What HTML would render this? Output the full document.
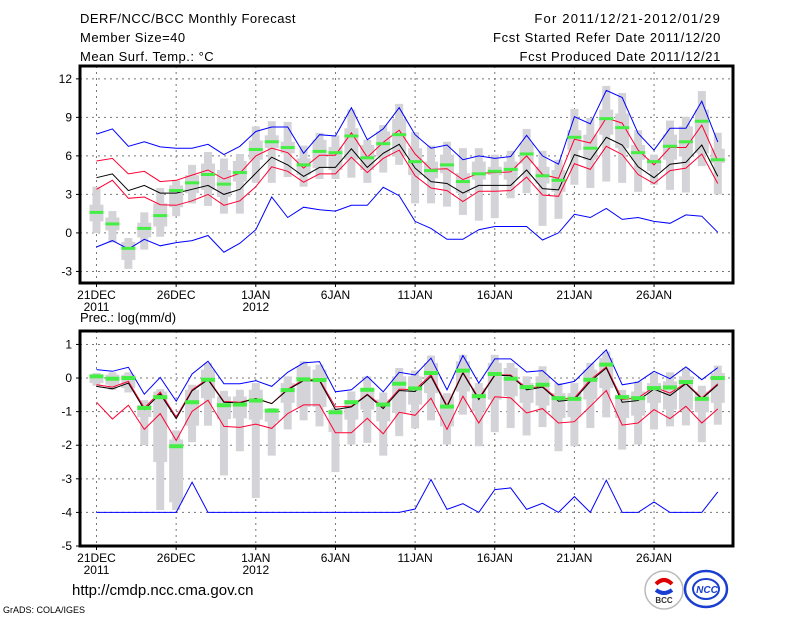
<!DOCTYPE html>
<html><head><meta charset="utf-8">
<style>
html,body{margin:0;padding:0;background:#fff;}
svg{display:block;font-family:"Liberation Sans","DejaVu Sans",sans-serif;}
</style></head>
<body>
<svg id="chart" width="800" height="618" viewBox="0 0 800 618" xmlns="http://www.w3.org/2000/svg">
<rect x="0" y="0" width="800" height="618" fill="#fff"/>
<g font-size="13" fill="#000" letter-spacing="0.5">
<text x="80" y="23">DERF/NCC/BCC Monthly Forecast</text>
<text x="80" y="42">Member Size=40</text>
<text x="80" y="61">Mean Surf. Temp.: °C</text>
</g>
<g font-size="13" fill="#000" text-anchor="end">
<text x="721" y="23" letter-spacing="1.2">For 2011/12/21-2012/01/29</text>
<text x="721" y="42" letter-spacing="0.7">Fcst Started Refer Date 2011/12/20</text>
<text x="721" y="61" letter-spacing="0.65">Fcst Produced Date 2011/12/21</text>
</g>
<text x="80" y="322" font-size="13">Prec.: log(mm/d)</text>
<text x="72" y="595" font-size="15">http://cmdp.ncc.cma.gov.cn</text>
<text x="3" y="613" font-size="9">GrADS: COLA/IGES</text>
<g>
<circle cx="664" cy="590" r="19" fill="#fff" stroke="#bbb" stroke-width="1.5"/>
<path d="M656 584 q8 -8 16 0" stroke="#d00" stroke-width="4" fill="none"/>
<path d="M656 590 q8 6 16 0" stroke="#1a3fd0" stroke-width="4" fill="none"/>
<text x="664" y="603" font-size="8" font-weight="bold" text-anchor="middle" fill="#333">BCC</text>
</g>
<g>
<ellipse cx="706" cy="589" rx="21" ry="18" fill="#fff" stroke="#1a3fd0" stroke-width="2.5"/>
<ellipse cx="706" cy="589" rx="13" ry="10" fill="none" stroke="#1a3fd0" stroke-width="2"/>
<text x="707" y="593" font-size="10" font-weight="bold" font-style="italic" text-anchor="middle" fill="#1a3fd0">NCC</text>
</g>
<g id="plots"></g>
</svg>
<script>
// ---- data: days 0..39 (21DEC2011 .. 29JAN2012)
const xTickLabels = ["21DEC","26DEC","1JAN","6JAN","11JAN","16JAN","21JAN","26JAN"];
const xTickYears = ["2011","","2012","","","","",""];
const tTicks = [-3,0,3,6,9,12];
const pTicks = [-5,-4,-3,-2,-1,0,1];

const tBlueHi = [7.7,8.1,6.75,7.1,6.7,6.6,6.6,6.9,6.1,6.75,7.9,8.25,8.25,6.2,7.65,7.55,9.75,7.25,8.1,9.75,7.65,6.6,6.85,5.7,6.0,5.8,5.95,7.6,6.0,5.35,9.05,8.5,11.1,10.55,7.75,6.45,8.15,8.15,10.25,7.07];
const tRedHi = [5.6,5.8,4.6,4.8,4.0,4.1,4.5,4.9,4.2,4.65,6.0,6.6,6.25,5.05,6.05,6.05,7.8,5.9,7.05,8.0,6.15,4.95,5.0,4.15,4.65,4.7,4.75,6.0,4.55,4.25,7.3,7.0,8.95,8.55,6.45,5.3,6.65,6.65,8.4,5.6];
const tMean = [4.3,4.6,3.3,3.7,3.1,3.1,3.4,3.7,3.0,3.4,4.65,5.9,5.3,4.4,5.1,5.1,6.55,5.1,6.2,6.9,5.05,4.0,3.85,3.1,3.7,3.7,3.7,4.9,3.45,3.35,6.1,5.7,7.45,6.85,5.15,4.3,5.35,5.5,6.85,4.4];
const tRedLo = [3.4,4.1,2.7,2.8,2.2,2.15,2.5,3.0,2.15,2.5,3.6,5.15,4.8,3.95,4.6,4.6,5.9,4.7,5.8,6.45,4.45,3.5,3.3,2.45,3.25,3.25,3.3,4.35,2.95,2.85,5.4,4.95,6.75,6.1,4.55,3.85,4.85,5.05,6.15,3.85];
const tBlueLo = [-1.1,-0.6,-1.25,-0.5,-1.0,-0.75,-0.6,-0.2,-1.5,-0.8,0.25,2.8,1.2,2.0,1.8,1.7,2.15,2.15,3.55,2.9,0.9,0.35,-0.5,-0.5,0.25,0.5,0.5,0.5,-0.55,0,1.45,1.2,1.9,1.05,1.2,0.9,0.75,1.4,1.3,0.05];
const tObs = [1.6,0.7,-1.2,0.35,1.35,3.3,3.9,4.55,3.8,4.7,6.5,7.1,6.65,5.3,6.35,6.25,7.55,5.85,6.95,7.65,5.55,4.85,5.3,4.0,4.6,4.8,4.95,6.15,4.45,4.1,7.45,6.6,8.9,8.2,6.25,5.55,6.75,7.1,8.7,5.7];
const tBoxOutHi = [3.6,1.7,-0.4,1.6,3.5,4.1,5.3,6.3,5.8,6.15,8.3,8.7,8.65,6.8,7.8,7.6,9.6,7.25,8.4,10.05,7.85,6.8,7.1,6.6,6.6,6.1,6.4,8.1,6.4,5.7,9.65,8.95,11.45,10.9,8.0,6.1,8.75,9.05,11.05,7.8];
const tBoxOutLo = [0,-0.75,-2.8,-1.3,-0.3,1.3,2.3,2.1,1.5,1.5,3.9,3.9,4.35,3.6,4.2,4.2,4.3,3.9,4.7,5.3,2.3,2.3,2.05,1.4,0.95,1.15,2.7,3.1,0.55,1.1,3.75,3.5,4.0,3.9,3.2,3.75,3.35,3.15,5.2,3.0];
const tBoxInHi = [2.2,1.2,-0.7,0.8,2.3,3.7,4.5,5.4,4.9,5.6,7.2,7.6,7.1,5.8,7.25,6.7,8.15,6.85,7.9,8.9,6.6,5.55,6.1,4.65,5.55,5.15,5.55,7.0,5.15,4.9,8.0,7.65,9.6,9.3,6.85,5.8,7.65,8.3,9.6,6.55];
const tBoxInLo = [0.9,0.2,-2.1,-0.35,0.5,2.0,3.1,3.35,2.8,4.0,5.7,6.6,6.2,4.5,5.05,4.9,5.7,4.9,5.95,5.95,4.5,4.25,4.65,3.1,4.15,4.5,4.15,5.4,3.85,3.2,6.45,5.7,7.65,6.6,5.7,4.8,5.7,5.95,6.2,5.45];

const pBlueHi = [0.25,0.2,0.32,-0.48,0.02,-0.69,0.12,0.5,-0.17,-0.17,-0.08,-0.25,0.17,0.45,0.49,-0.41,-0.35,0.05,-0.41,0.17,0.09,0.59,-0.35,0.67,-0.15,0.57,0.57,0.18,0.22,-0.2,-0.1,0.37,0.84,-0.2,-0.12,0.2,-0.02,0.33,-0.05,0.31];
const pRedHi = [-0.2,-0.27,-0.1,-0.89,-0.42,-1.16,-0.35,-0.02,-0.7,-0.72,-0.61,-0.76,-0.33,-0.05,-0.05,-0.86,-0.84,-0.48,-0.86,-0.33,-0.35,0.1,-0.82,0.17,-0.6,0.1,0.09,-0.3,-0.25,-0.64,-0.59,-0.05,0.33,-0.64,-0.59,-0.27,-0.45,-0.15,-0.59,-0.17];
const pMean = [-0.25,-0.32,-0.15,-0.94,-0.47,-1.21,-0.38,-0.05,-0.72,-0.74,-0.61,-0.76,-0.35,-0.08,-0.08,-0.94,-0.86,-0.5,-0.91,-0.37,-0.4,0.05,-0.86,0.15,-0.64,0.08,0.07,-0.35,-0.27,-0.69,-0.64,-0.1,0.3,-0.72,-0.67,-0.33,-0.52,-0.17,-0.62,-0.2];
const pRedLo = [-0.72,-1.22,-0.81,-1.53,-1.06,-1.86,-0.99,-0.66,-1.44,-1.47,-1.37,-1.5,-1.06,-0.8,-0.8,-1.63,-1.63,-1.2,-1.66,-1.02,-1.11,-0.6,-1.53,-0.54,-1.34,-0.56,-0.59,-1.04,-0.91,-1.34,-1.3,-0.84,-0.37,-1.4,-1.34,-0.94,-1.21,-0.84,-1.34,-0.92];
const pBlueLo = [-4,-4,-4,-4,-4,-4,-3.1,-4,-4,-4,-4,-4,-4,-4,-4,-4,-4,-4,-4,-4,-3.9,-3.02,-3.91,-3.74,-4,-3.32,-3.27,-3.91,-3.73,-4,-3.53,-4,-3.04,-4,-4,-3.69,-4,-4,-4,-3.39];
const pObs = [0.05,-0.02,0,-0.89,-0.57,-2.03,-0.72,-0.05,-0.81,-0.79,-0.67,-0.97,-0.36,-0.04,-0.06,-1.02,-0.72,-0.35,-0.79,-0.17,-0.31,0.15,-0.85,0.22,-0.54,0.12,-0.02,-0.27,-0.2,-0.6,-0.62,-0.05,0.4,-0.57,-0.6,-0.3,-0.28,-0.12,-0.62,0];
const pBoxOutHi = [0.15,0.17,0.17,-0.66,-0.33,-1.56,-0.2,0.45,-0.38,-0.35,-0.15,-0.89,0.05,0.5,0.4,-0.89,-0.4,0.05,-0.43,0.3,0.22,0.67,-0.45,0.69,-0.15,0.69,0.45,0.05,0.35,-0.15,-0.15,0.45,0.79,-0.35,-0.1,0.15,0.17,0.3,-0.23,0.37];
const pBoxOutLo = [-0.23,-0.35,-0.43,-2.0,-3.93,-3.93,-1.91,-1.42,-2.9,-2.18,-3.57,-2.31,-1.53,-1.26,-1.44,-2.8,-1.98,-1.93,-2.31,-1.73,-1.5,-1.26,-1.98,-1.09,-2.03,-1.61,-1.49,-1.71,-1.46,-2.18,-2.03,-1.49,-1.17,-2.13,-1.98,-1.53,-1.44,-1.41,-1.91,-1.39];
const pBoxInHi = [0.1,0.1,0.1,-0.8,-0.4,-1.83,-0.35,0.25,-0.55,-0.55,-0.35,-0.94,-0.15,0.35,0.25,-0.94,-0.66,-0.3,-0.64,0.05,0.05,0.45,-0.55,0.5,-0.3,0.45,0.3,-0.15,0.05,-0.45,-0.45,0.25,0.6,-0.5,-0.4,-0.15,-0.1,0.05,-0.4,0.15];
const pBoxInLo = [-0.15,-0.2,-0.3,-1.16,-2.5,-3.7,-1.42,-0.6,-1.22,-1.2,-1.24,-1.3,-0.74,-0.86,-0.86,-1.61,-1.24,-0.94,-1.29,-1.04,-0.79,-0.45,-1.44,-0.4,-0.99,-0.64,-0.54,-0.74,-0.82,-1.19,-1.16,-0.64,-0.3,-1.19,-1.12,-0.74,-0.94,-0.94,-1.02,-0.74];

// ---- layout
const svgNS = "http://www.w3.org/2000/svg";
const root = document.getElementById("plots");
const X0 = 80, X1 = 733;
function xs(i){ return 96.5 + i*15.93; }
const topP = {y0:66, y1:283, vmin:-3.9, vmax:13.0, ticks:tTicks, name:"temperature-panel"};
const botP = {y0:331, y1:546, vmin:-5, vmax:1.4, ticks:pTicks, name:"precip-panel"};
function ys(p, v){ return p.y1 - (v - p.vmin)/(p.vmax - p.vmin)*(p.y1 - p.y0); }
function mk(tag, attrs, parent){
  const e = document.createElementNS(svgNS, tag);
  for (const k in attrs) e.setAttribute(k, attrs[k]);
  (parent||root).appendChild(e);
  return e;
}

function drawPanel(p, s){
  const g = mk("g", {});
  
  
  const cid = p.name + "-clip";
  const defs = mk("defs", {}, g);
  const cp = mk("clipPath", {id:cid}, defs);
  mk("rect", {x:X0, y:p.y0, width:X1-X0, height:p.y1-p.y0}, cp);
  p.ticks.forEach(function(t){
    const y = ys(p, t);
    const l = mk("line", {x1:X0, x2:X1, y1:y, y2:y, stroke:"#777", "stroke-width":1, "stroke-dasharray":"2,4"}, g);
    
    
    const tk = mk("line", {x1:X0-4, x2:X0, y1:y, y2:y, stroke:"#000"}, g);
    
    
    const lb = mk("text", {x:X0-8, y:y+4, "font-size":12, "text-anchor":"end"}, g);
    lb.textContent = String(t);
    
    
  });
  xTickLabels.forEach(function(lab, k){
    const x = xs(k*5);
    const l = mk("line", {x1:x, x2:x, y1:p.y0, y2:p.y1, stroke:"#777", "stroke-width":1, "stroke-dasharray":"2,4"}, g);
    
    
    const tk = mk("line", {x1:x, x2:x, y1:p.y1, y2:p.y1+4, stroke:"#000"}, g);
    
    
    const t1 = mk("text", {x:x, y:p.y1+16, "font-size":12, "text-anchor":"middle"}, g);
    t1.textContent = lab;
    
    
    if (xTickYears[k]) {
      const t2 = mk("text", {x:x, y:p.y1+28, "font-size":12, "text-anchor":"middle"}, g);
      t2.textContent = xTickYears[k];
      
      
    }
  });
  const pg = mk("g", {"clip-path":"url(#"+cid+")"}, g);
  s.outHi.forEach(function(v, i){
    const x = xs(i);
    const a = ys(p, v), b = ys(p, s.outLo[i]);
    const r = mk("rect", {x:x-4, y:a, width:8, height:b-a, fill:"#d4d4d8"}, pg);
    
    
    const a2 = ys(p, s.inHi[i]), b2 = ys(p, s.inLo[i]);
    const r2 = mk("rect", {x:x-7, y:a2, width:14, height:b2-a2, fill:"#d4d4d8"}, pg);
    
    
  });
  const series = [[s.blueHi,"#0000ff","max-line"],[s.blueLo,"#0000ff","min-line"],[s.redHi,"#ff0033","upper-line"],[s.redLo,"#ff0033","lower-line"],[s.mean,"#000","mean-line"]];
  series.forEach(function(sr){
    const pts = sr[0].map(function(v,i){ return xs(i).toFixed(1)+","+ys(p,v).toFixed(1); }).join(" ");
    const pl = mk("polyline", {points:pts, fill:"none", stroke:sr[1], "stroke-width":1}, pg);
    
    
  });
  s.obs.forEach(function(v, i){
    const y = ys(p, v);
    const r = mk("rect", {x:xs(i)-7, y:y-s.gh/2, width:14, height:s.gh, fill:"#44ee44"}, pg);
    
    
  });
  const f = mk("rect", {x:X0, y:p.y0, width:X1-X0, height:p.y1-p.y0, fill:"none", stroke:"#000", "stroke-width":3}, g);
  
  
}
drawPanel(topP, {blueHi:tBlueHi, redHi:tRedHi, mean:tMean, redLo:tRedLo, blueLo:tBlueLo, obs:tObs, outHi:tBoxOutHi, outLo:tBoxOutLo, inHi:tBoxInHi, inLo:tBoxInLo, gh:3});
drawPanel(botP, {blueHi:pBlueHi, redHi:pRedHi, mean:pMean, redLo:pRedLo, blueLo:pBlueLo, obs:pObs, outHi:pBoxOutHi, outLo:pBoxOutLo, inHi:pBoxInHi, inLo:pBoxInLo, gh:4});
</script>
</body></html>
